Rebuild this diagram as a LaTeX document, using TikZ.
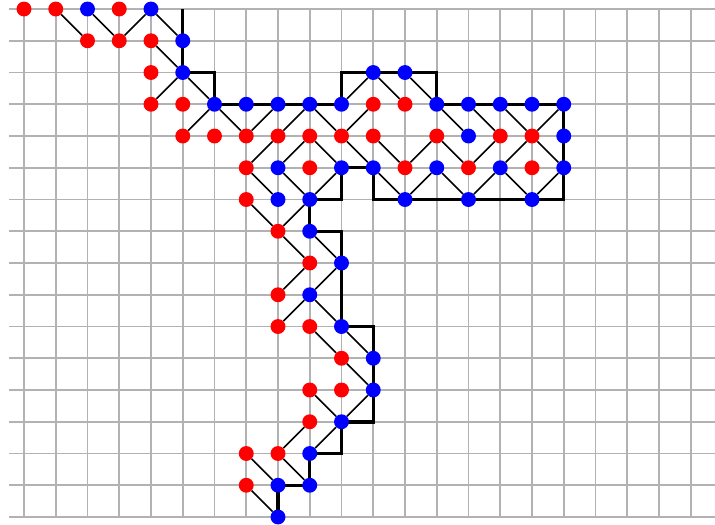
\documentclass[tikz,border=0pt]{standalone}
\begin{document}
\begin{tikzpicture}[x=1cm,y=-1cm,
  gridline/.style={line width=1.6pt,draw=black!30},
  thickpath/.style={line width=3.1pt,draw=black,line join=miter},
  thinline/.style={line width=1.3pt,draw=black},
  rdot/.style={circle,fill=red,inner sep=0pt,minimum size=0.47cm},
  bdot/.style={circle,fill=blue,inner sep=0pt,minimum size=0.47cm}]
\useasboundingbox (-0.756,-0.284) rectangle (21.764,16.246);
% grid
\foreach \j in {0,...,16} \draw[gridline] (-0.472,\j) -- (21.764,\j);
\foreach \i in {0,...,21} \draw[gridline] (\i,0) -- (\i,16);
% thick path
\draw[thickpath] (5,0) -- (5,2) -- (6,2) -- (6,3) -- (10,3) -- (10,2) -- (13,2) -- (13,3)
  -- (17,3) -- (17,6) -- (11,6) -- (11,5) -- (10,5) -- (10,6) -- (9,6) -- (9,7) -- (10,7)
  -- (10,10) -- (11,10) -- (11,13) -- (10,13) -- (10,14) -- (9,14) -- (9,15) -- (8,15) -- (8,16);
% dots (nodes)
\foreach \i/\j in {0/0,1/0,3/0,2/1,3/1,4/1,4/2,4/3,5/3,11/3,12/3,5/4,6/4,7/4,8/4,9/4,10/4,11/4,
  13/4,15/4,16/4,7/5,9/5,12/5,14/5,16/5,7/6,8/7,9/8,8/9,8/10,9/10,10/11,9/12,10/12,9/13,7/14,8/14,7/15}
  \node[rdot] (n-\i-\j) at (\i,\j) {};
\foreach \i/\j in {2/0,4/0,5/1,5/2,11/2,12/2,6/3,7/3,8/3,9/3,10/3,13/3,14/3,15/3,16/3,17/3,14/4,17/4,
  8/5,10/5,11/5,13/5,15/5,17/5,8/6,9/6,12/6,14/6,16/6,9/7,10/8,9/9,10/10,11/11,11/12,10/13,9/14,8/15,9/15,8/16}
  \node[bdot] (n-\i-\j) at (\i,\j) {};
% thin connectors
\begin{scope}[on background layer/.style={}]
\foreach \a/\b in {1-0/2-1,2-0/3-1,3-1/4-0,4-0/5-1,4-1/5-2,5-2/4-3,5-2/6-3,6-3/5-4,6-3/7-4,
  7-4/8-3,8-4/9-3,7-5/8-4,8-5/9-4,7-5/8-6,8-5/9-6,9-4/10-5,9-6/10-5,9-3/10-4,
  10-3/11-2,11-2/12-3,12-2/13-3,11-3/10-4,10-4/11-5,11-4/12-5,12-5/13-4,12-6/13-5,11-5/12-6,
  13-3/14-4,13-4/14-5,13-5/14-6,14-3/15-4,15-3/16-4,16-4/17-3,14-5/15-4,15-5/16-4,16-4/17-5,
  14-6/15-5,15-5/16-6,16-6/17-5,
  7-6/8-7,8-7/9-6,8-7/9-8,9-7/10-8,9-8/8-9,10-8/9-9,9-9/8-10,9-9/10-10,9-10/10-11,10-10/11-11,
  10-11/11-12,9-12/10-13,10-13/11-12,10-13/9-14,9-13/8-14,8-14/9-15,7-14/8-15,7-15/8-16}
  \draw[thinline] (n-\a) -- (n-\b);
\end{scope}
\end{tikzpicture}
\end{document}
